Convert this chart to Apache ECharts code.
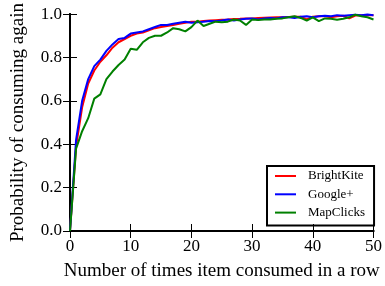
<!DOCTYPE html>
<html>
<head>
<meta charset="utf-8">
<script src="https://cdn.jsdelivr.net/npm/echarts@6/dist/echarts.min.js"></script>
<style>html,body{margin:0;padding:0;background:#fff}#c{width:385px;height:286px}</style>
</head>
<body>
<div id="c"></div>
<script>
var xValues = [];
for (var i = 0; i <= 50; i++) xValues.push(i);
var brightKite = [0,0.39,0.57,0.68,0.74,0.78,0.81,0.845,0.87,0.885,0.9,0.91,0.915,0.925,0.935,0.94,0.945,0.95,0.955,0.96,0.965,0.965,0.968,0.97,0.972,0.974,0.975,0.977,0.978,0.98,0.98,0.982,0.983,0.984,0.985,0.985,0.986,0.987,0.988,0.975,0.988,0.99,0.99,0.985,0.99,0.992,0.98,0.993,0.994,0.995,0.995];
var googlePlus = [0,0.42,0.60,0.70,0.76,0.79,0.83,0.86,0.885,0.89,0.91,0.915,0.92,0.93,0.94,0.95,0.95,0.955,0.96,0.965,0.96,0.962,0.965,0.968,0.967,0.97,0.975,0.97,0.975,0.978,0.98,0.975,0.98,0.982,0.98,0.985,0.985,0.982,0.988,0.99,0.985,0.99,0.992,0.99,0.995,0.992,0.995,0.997,0.995,0.998,0.995];
var mapClicks = [0,0.38,0.46,0.52,0.61,0.63,0.70,0.735,0.765,0.79,0.84,0.835,0.87,0.89,0.90,0.90,0.915,0.935,0.93,0.92,0.94,0.97,0.945,0.955,0.965,0.962,0.965,0.975,0.97,0.95,0.975,0.972,0.975,0.975,0.978,0.98,0.985,0.99,0.982,0.97,0.985,0.967,0.98,0.978,0.974,0.978,0.985,0.997,0.99,0.985,0.975];
var seriesNames = ['BrightKite','Google+','MapClicks'];
var seriesColors = ['#ff0000','#0000ff','#008000'];
var seriesData = [brightKite, googlePlus, mapClicks];

function pairs(arr){ return arr.map(function(v,i){ return [xValues[i], v]; }); }

var font = 'Liberation Serif';
var chart = echarts.init(document.getElementById('c'));
var axisLine = {show:true, lineStyle:{color:'#000', width:2}};
var tick = {show:true, inside:true, length:7, lineStyle:{color:'#000', width:1}};
chart.setOption({
  animation:false,
  backgroundColor:'#fff',
  grid:{left:70, right:10, top:11, bottom:55},
  legend:{
    orient:'vertical', left:267, top:166,
    data:seriesNames,
    icon:'rect', itemWidth:21, itemHeight:2, itemGap:4.3,
    borderColor:'#000', borderWidth:2, borderRadius:0,
    padding:[3,9,6,8],
    textStyle:{fontFamily:font, fontSize:13, color:'#000', lineHeight:14, padding:[0,0,0,7]}
  },
  xAxis:[
    {type:'value', position:'bottom', min:0, max:50, interval:10,
     axisLine:axisLine, axisTick:tick, splitLine:{show:false},
     axisLabel:{fontFamily:font, fontSize:17, color:'#000', margin:7},
     name:'Number of times item consumed in a row', nameLocation:'middle', nameGap:31,
     nameTextStyle:{fontFamily:font, fontSize:19, color:'#000'}},
    {type:'value', position:'top', min:0, max:50, interval:10,
     axisLine:axisLine, axisTick:tick, splitLine:{show:false}, axisLabel:{show:false}}
  ],
  yAxis:[
    {type:'value', position:'left', min:0, max:1, interval:0.2,
     axisLine:axisLine, axisTick:tick, splitLine:{show:false},
     axisLabel:{fontFamily:font, fontSize:17, color:'#000', margin:8, formatter:function(v){return v.toFixed(1);}},
     name:'Probability of consuming again', nameLocation:'middle', nameGap:42,
     nameTextStyle:{fontFamily:font, fontSize:19, color:'#000'}},
    {type:'value', position:'right', min:0, max:1, interval:0.2,
     axisLine:axisLine, axisTick:tick, splitLine:{show:false}, axisLabel:{show:false}}
  ],
  series:seriesData.map(function(d, k){
    return {name:seriesNames[k], type:'line', data:pairs(d), symbol:'none',
            lineStyle:{color:seriesColors[k], width:2}, itemStyle:{color:seriesColors[k]}, z:2+k};
  })
});
</script>
</body>
</html>
